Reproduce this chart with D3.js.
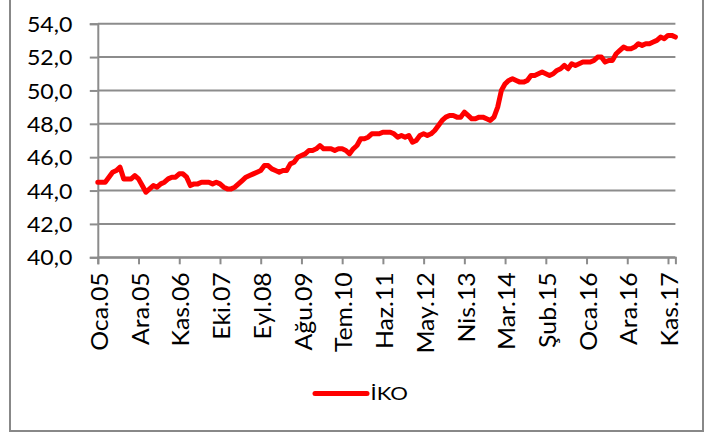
<!DOCTYPE html>
<html><head><meta charset="utf-8">
<script src="https://cdn.jsdelivr.net/npm/d3@7"></script>
<style>
html,body{margin:0;padding:0;background:#fff;}
svg{display:block;}
text{font-family:"Lato","Open Sans",sans-serif;fill:#000;}
</style></head>
<body><div id="chart"></div>
<script>
// ---- data ----
const monthNames = ["Oca","Şub","Mar","Nis","May","Haz","Tem","Ağu","Eyl","Eki","Kas","Ara"];
const startYear = 2005;
const seriesName = "İKO";
const ikoValues = [
44.5,44.5,44.5,44.8,45.1,45.2,45.4,44.7,44.7,44.7,44.9,44.7,
44.3,43.9,44.1,44.3,44.2,44.4,44.5,44.7,44.8,44.8,45.0,45.0,
44.8,44.3,44.4,44.4,44.5,44.5,44.5,44.4,44.5,44.4,44.2,44.1,
44.1,44.2,44.4,44.6,44.8,44.9,45.0,45.1,45.2,45.5,45.5,45.3,
45.2,45.1,45.2,45.2,45.6,45.7,46.0,46.1,46.2,46.4,46.4,46.5,
46.7,46.5,46.5,46.5,46.4,46.5,46.5,46.4,46.2,46.5,46.7,47.1,
47.1,47.2,47.4,47.4,47.4,47.5,47.5,47.5,47.4,47.2,47.3,47.2,
47.3,46.9,47.0,47.3,47.4,47.3,47.4,47.6,47.9,48.2,48.4,48.5,
48.5,48.4,48.4,48.7,48.5,48.3,48.3,48.4,48.4,48.3,48.2,48.4,
49.0,50.0,50.4,50.6,50.7,50.6,50.5,50.5,50.6,50.9,50.9,51.0,
51.1,51.0,50.9,51.0,51.2,51.3,51.5,51.3,51.6,51.5,51.6,51.7,
51.7,51.7,51.8,52.0,52.0,51.7,51.8,51.8,52.2,52.4,52.6,52.5,
52.5,52.6,52.8,52.7,52.8,52.8,52.9,53.0,53.2,53.1,53.3,53.3,
53.2
];
const categories = ikoValues.map((v,i)=>{
  const yy = startYear + Math.floor(i/12);
  return monthNames[i%12] + "." + String(yy%100).padStart(2,"0");
});
const tickEvery = 11;
const yTicks = [40,42,44,46,48,50,52,54];

// ---- layout ----
const W = 705, H = 435;
const m = {left:97.8, right:W-675.4, top:23.7, bottom:H-257.3};
const svg = d3.select("#chart").append("svg").attr("width",W).attr("height",H);

// outer border
svg.append("rect").attr("x",10).attr("y",-5).attr("width",693).attr("height",436)
  .attr("fill","none").attr("stroke","#888").attr("stroke-width",2);

const x = d3.scalePoint().domain(categories).range([m.left, W-m.right]);
const y = d3.scaleLinear().domain([40,54]).range([H-m.bottom, m.top]);

// gridlines
svg.append("g").selectAll("line").data(yTicks).join("line")
  .attr("x1",m.left).attr("x2",W-m.right)
  .attr("y1",d=>y(d)).attr("y2",d=>y(d))
  .attr("stroke","#8c8c8c").attr("stroke-width",2);

// y axis
const yAxis = d3.axisLeft(y).tickValues(yTicks).tickSize(8).tickPadding(18)
  .tickFormat(d=>d3.format(".1f")(d).replace(".",","));
const gy = svg.append("g").attr("transform",`translate(${m.left},0)`).call(yAxis);
gy.select(".domain").attr("stroke","#8c8c8c").attr("stroke-width",2);
gy.selectAll(".tick line").attr("stroke","#8c8c8c").attr("stroke-width",2);
gy.selectAll("text").style("font-size","21px").attr("fill","#000")
  .attr("x",0).attr("dy","0.36em")
  .attr("transform","translate(-25.5,0) scale(1.1,1)");

// x axis
const tickCats = categories.filter((c,i)=>i%tickEvery===0);
const xAxis = d3.axisBottom(x).tickValues(tickCats).tickSize(7).tickPadding(0);
const gx = svg.append("g").attr("transform",`translate(0,${H-m.bottom})`).call(xAxis);
gx.select(".domain").attr("stroke","#8c8c8c").attr("stroke-width",2);
gx.selectAll(".tick line").attr("stroke","#8c8c8c").attr("stroke-width",2);
gx.selectAll("text").style("font-size","23px").attr("fill","#000")
  .attr("text-anchor","end").attr("transform","rotate(-90) translate(-15,0) scale(1.08,1)")
  .attr("x",0).attr("y",0).attr("dy","0.42em");

// line
const line = d3.line().x((d,i)=>x(categories[i])).y(d=>y(d));
svg.append("path").datum(ikoValues).attr("d",line)
  .attr("fill","none").attr("stroke","#ff0000").attr("stroke-width",5)
  .attr("stroke-linejoin","round").attr("stroke-linecap","round");

// legend
const lg = svg.append("g").attr("transform","translate(315,393.5)");
lg.append("line").attr("x1",0).attr("x2",52).attr("y1",0).attr("y2",0)
  .attr("stroke","#ff0000").attr("stroke-width",5).attr("stroke-linecap","round");
lg.append("text").attr("x",0).attr("y",0).attr("dy","0.36em")
  .attr("transform","translate(55.5,0) scale(1.3,1)")
  .style("font-size","17px").text(seriesName);
</script></body></html>
